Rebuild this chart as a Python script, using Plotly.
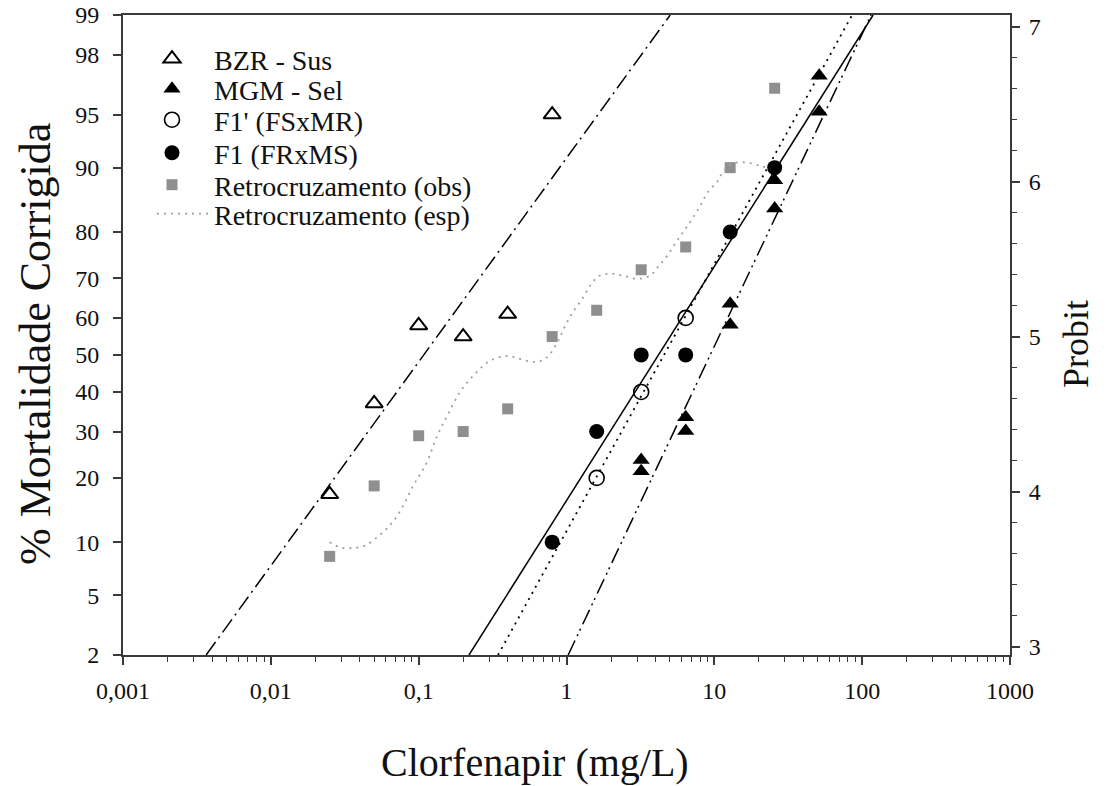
import plotly.graph_objects as go
from statistics import NormalDist

_nd = NormalDist()
def probit(pcts):
    return [_nd.inv_cdf(p / 100.0) for p in pcts]

# ---------------- data (concentration mg/L, % corrected mortality) -------------
bzr_x = [0.025, 0.05, 0.1, 0.2, 0.4, 0.8]
bzr_y = [17, 37, 58, 55, 61, 95]

mgm_x = [3.2, 3.2, 6.4, 6.4, 12.8, 12.8, 25.6, 25.6, 51.2, 51.2]
mgm_y = [23.6, 21.3, 33.5, 30.1, 63.7, 58.2, 88.4, 84.2, 97.2, 95.2]

f1l_x = [1.6, 3.2, 6.4]
f1l_y = [20, 40, 60]

f1_x = [0.8, 1.6, 3.2, 6.4, 12.8, 25.6]
f1_y = [10, 30, 50, 50, 80, 90]

retro_obs_x = [0.025, 0.05, 0.1, 0.2, 0.4, 0.8, 1.6, 3.2, 6.4, 12.8, 25.6]
retro_obs_y = [8.4, 18.5, 29, 30, 35.6, 55, 62, 72, 77, 90, 96.6]

# expected back-cross curve
retro_esp_x = [0.025, 0.0294, 0.0354, 0.0434, 0.0523, 0.0621, 0.0714, 0.0809, 0.0917,
               0.1022, 0.114, 0.1332, 0.1557, 0.1906, 0.2334, 0.3041, 0.3963, 0.4855,
               0.5943, 0.6945, 0.7745, 0.8774, 0.9784, 1.108, 1.275, 1.444, 1.636,
               1.972, 2.415, 3.004, 3.678, 4.167, 4.793, 5.429, 6.15, 7.075, 8.015,
               9.081, 10.44, 11.47, 13.4, 16.67, 20.41, 23.85]
retro_esp_y = [10.0, 9.4, 9.3, 9.6, 10.6, 11.9, 13.5, 15.7, 18.5,
               20.7, 23.2, 28.9, 33.8, 40.0, 44.3, 48.4, 49.7, 48.9,
               48.1, 48.6, 50.3, 53.8, 57.9, 61.6, 64.9, 68.2, 70.4,
               71.1, 70.6, 69.9, 70.6, 72.7, 75.1, 77.7, 80.0, 82.4, 84.6,
               86.8, 88.2, 89.5, 90.5, 90.6, 90.2, 89.9]

# fitted probit lines: concentration at 2 % and at 99 % mortality
fit_pct = [2, 99]
fit_bzr_x = [0.00365, 5.03]
fit_f1_x = [0.219, 118.6]
fit_f1l_x = [0.344, 85.5]
fit_mgm_x = [1.026, 115.0]

# axes
x_tickvals = [0.001, 0.01, 0.1, 1, 10, 100, 1000]
x_ticktext = ["0,001", "0,01", "0,1", "1", "10", "100", "1000"]
y_ticklabels = [2, 5, 10, 20, 30, 40, 50, 60, 70, 80, 90, 95, 98, 99]
probit_ticks = [3, 4, 5, 6, 7]
probit_range = [2.948, 7.077]

x_minor = [m * 10 ** e for e in range(-3, 3) for m in range(2, 10)]

FONT = "Liberation Serif"
TXT = "#111111"
AX = "#3a3a3a"
LEG_FONT = 28

# plot-area geometry in pixels (used for legend/title placement)
W, H = 1108, 786
ML, MR, MT, MB = 123, 98, 15, 131
PW, PH = W - ML - MR, H - MT - MB

def px_x(px):
    return (px - ML) / PW

def px_y(py):
    return 1 - (py - MT) / PH

fig = go.Figure()

# fitted lines (not in legend)
fig.add_trace(go.Scatter(x=fit_bzr_x, y=probit(fit_pct), mode="lines", showlegend=False,
                         line=dict(color="black", width=1.5, dash="16px,5px,2px,5px"),
                         hoverinfo="skip"))
fig.add_trace(go.Scatter(x=fit_f1_x, y=probit(fit_pct), mode="lines", showlegend=False,
                         line=dict(color="black", width=1.5), hoverinfo="skip"))
fig.add_trace(go.Scatter(x=fit_f1l_x, y=probit(fit_pct), mode="lines", showlegend=False,
                         line=dict(color="black", width=1.8, dash="2px,5px"), hoverinfo="skip"))
fig.add_trace(go.Scatter(x=fit_mgm_x, y=probit(fit_pct), mode="lines", showlegend=False,
                         line=dict(color="black", width=1.5, dash="16px,5px,2px,4px,2px,5px"),
                         hoverinfo="skip"))

# points
fig.add_trace(go.Scatter(x=bzr_x, y=probit(bzr_y), mode="markers", name="BZR - Sus",
                         legend="legend",
                         marker=dict(symbol="triangle-up-open", size=15, color="black",
                                     line=dict(width=2, color="black"))))
fig.add_trace(go.Scatter(x=mgm_x, y=probit(mgm_y), mode="markers", name="MGM - Sel",
                         legend="legend2",
                         marker=dict(symbol="triangle-up", size=15, color="black")))
fig.add_trace(go.Scatter(x=f1l_x, y=probit(f1l_y), mode="markers", name="F1' (FSxMR)",
                         legend="legend3",
                         marker=dict(symbol="circle-open", size=15, color="black",
                                     line=dict(width=1.6, color="black"))))
fig.add_trace(go.Scatter(x=f1_x, y=probit(f1_y), mode="markers", name="F1 (FRxMS)",
                         legend="legend4",
                         marker=dict(symbol="circle", size=15, color="black")))
fig.add_trace(go.Scatter(x=retro_obs_x, y=probit(retro_obs_y), mode="markers",
                         name="Retrocruzamento (obs)", legend="legend5",
                         marker=dict(symbol="square", size=11, color="#8f8f8f")))
fig.add_trace(go.Scatter(x=retro_esp_x, y=probit(retro_esp_y), mode="lines",
                         name="Retrocruzamento (esp)", legend="legend6",
                         line=dict(color="#a0a0a0", width=1.8, dash="2px,5px", shape="spline")))

# the right-hand probit axis needs a trace bound to it to be drawn
fig.add_trace(go.Scatter(x=[None], y=[None], yaxis="y2", mode="markers",
                         showlegend=False, hoverinfo="skip"))

def leg(row_center_px, itemwidth, left_px):
    return dict(x=px_x(left_px), y=px_y(row_center_px), xanchor="left", yanchor="middle",
                bgcolor="rgba(0,0,0,0)", borderwidth=0, itemwidth=itemwidth,
                font=dict(family=FONT, size=LEG_FONT, color=TXT))

fig.update_layout(
    template="none",
    width=W, height=H,
    margin=dict(l=ML, r=MR, t=MT, b=MB),
    paper_bgcolor="white", plot_bgcolor="white",
    font=dict(family=FONT, color=TXT, size=24),
    showlegend=True,
    legend=leg(59, 74, 130), legend2=leg(89, 74, 130), legend3=leg(120, 74, 130),
    legend4=leg(153, 74, 130), legend5=leg(185, 74, 130), legend6=leg(214, 52, 152),
    xaxis=dict(type="log", range=[-3, 3], tickvals=x_tickvals, ticktext=x_ticktext,
               ticks="outside", ticklen=8, tickwidth=1.5, tickcolor=AX,
               showline=True, linecolor=AX, linewidth=2, mirror=True,
               showgrid=False, zeroline=False, automargin=False,
               tickfont=dict(size=24), ticklabelstandoff=5,
               minor=dict(tickvals=x_minor, ticks="outside", ticklen=5,
                          tickwidth=1.2, tickcolor=AX, showgrid=False)),
    yaxis=dict(range=[_nd.inv_cdf(0.02), _nd.inv_cdf(0.99)],
               tickvals=probit(y_ticklabels), ticktext=[str(v) for v in y_ticklabels],
               ticks="outside", ticklen=8, tickwidth=1.5, tickcolor=AX,
               showline=True, linecolor=AX, linewidth=2, mirror=True,
               showgrid=False, zeroline=False, automargin=False,
               tickfont=dict(size=24), ticklabelstandoff=9),
    yaxis2=dict(overlaying="y", side="right", anchor="x",
                range=probit_range, tickvals=probit_ticks,
                ticks="outside", ticklen=8, tickwidth=1.5, tickcolor=AX,
                showline=True, linecolor=AX, linewidth=2,
                showgrid=False, zeroline=False, automargin=False,
                tickfont=dict(size=24), ticklabelstandoff=4,
                minor=dict(dtick=0.2, ticks="outside", ticklen=5, tickwidth=1.2,
                           tickcolor=AX, showgrid=False)),
    annotations=[
        dict(text="Clorfenapir (mg/L)", xref="paper", yref="paper",
             x=px_x(535), y=px_y(762), xanchor="center", yanchor="middle",
             showarrow=False, font=dict(family=FONT, size=40, color=TXT)),
        dict(text="% Mortalidade Corrigida", xref="paper", yref="paper",
             x=px_x(35), y=px_y(344), xanchor="center", yanchor="middle", textangle=-90,
             showarrow=False, font=dict(family=FONT, size=44, color=TXT)),
        dict(text="Probit", xref="paper", yref="paper",
             x=px_x(1076), y=px_y(344), xanchor="center", yanchor="middle", textangle=-90,
             showarrow=False, font=dict(family=FONT, size=36, color=TXT)),
    ],
)

fig.write_html("out.html", config={"displayModeBar": False},
               post_script="document.body.style.margin='0';document.body.style.overflow='hidden';")
